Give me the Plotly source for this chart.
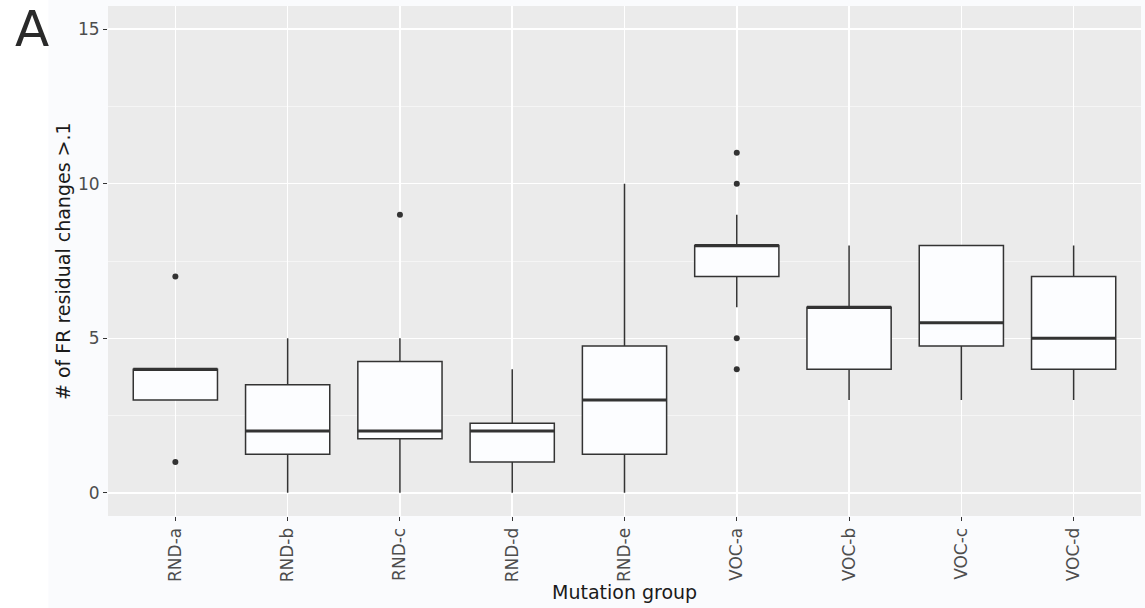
import plotly.graph_objects as go

categories = ["RND-a", "RND-b", "RND-c", "RND-d", "RND-e", "VOC-a", "VOC-b", "VOC-c", "VOC-d"]
q1 = [3, 1.25, 1.75, 1, 1.25, 7, 4, 4.75, 4]
median = [4, 2, 2, 2, 3, 8, 6, 5.5, 5]
q3 = [4, 3.5, 4.25, 2.25, 4.75, 8, 6, 8, 7]
lower = [3, 0, 0, 0, 0, 6, 3, 3, 3]
upper = [4, 5, 5, 4, 10, 9, 8, 8, 8]
outliers = {"RND-a": [7, 1], "RND-c": [9], "VOC-a": [11, 10, 5, 4]}
y_ticks = [0, 5, 10, 15]

box_w = 0.75
line_col = "#333333"
xs = list(range(len(categories)))

fig = go.Figure()
fig.add_trace(go.Box(
    x=xs, q1=q1, median=median, q3=q3, lowerfence=lower, upperfence=upper,
    width=box_w, whiskerwidth=0, fillcolor="#FCFDFF",
    line=dict(color=line_col, width=1.5), boxpoints=False, showlegend=False,
    hoverinfo="skip",
))

# thicker median lines (ggplot style)
mx, my = [], []
for i, m in enumerate(median):
    mx += [i - box_w / 2, i + box_w / 2, None]
    my += [m, m, None]
fig.add_trace(go.Scatter(x=mx, y=my, mode="lines", line=dict(color=line_col, width=3),
                         showlegend=False, hoverinfo="skip"))

ox, oy = [], []
for c, vals in outliers.items():
    for v in vals:
        ox.append(categories.index(c))
        oy.append(v)
fig.add_trace(go.Scatter(x=ox, y=oy, mode="markers", marker=dict(color=line_col, size=6),
                         showlegend=False, hoverinfo="skip"))

fig.add_shape(type="rect", xref="paper", yref="paper", x0=-0.2, x1=-0.0577, y0=-0.3, y1=1.1,
              fillcolor="white", line=dict(width=0), layer="below")

fig.add_annotation(text="A", xref="paper", yref="paper", x=-0.074, y=0.955, xanchor="center",
                   yanchor="middle", showarrow=False,
                   font=dict(family="DejaVu Sans", size=50, color="#2a2a2a"))

fig.add_annotation(text="Mutation group", xref="paper", yref="paper", x=0.5, y=-0.149,
                   xanchor="center", yanchor="middle", showarrow=False,
                   font=dict(family="DejaVu Sans", size=19, color="#1a1a1a"))
fig.add_annotation(text="# of FR residual changes >.1", xref="paper", yref="paper",
                   x=-0.0435, y=0.5, xanchor="center", yanchor="middle", textangle=-90,
                   showarrow=False, font=dict(family="DejaVu Sans", size=19, color="#1a1a1a"))

fig.update_layout(
    width=1145, height=608,
    margin=dict(l=108, r=4, t=6, b=92),
    paper_bgcolor="#FAFBFD", plot_bgcolor="#EBEBEB",
    font=dict(family="DejaVu Sans", size=17, color="#4D4D4D"),
    xaxis=dict(
        range=[-0.6, len(categories) - 0.4], tickmode="array", tickvals=xs, ticktext=categories,
        tickangle=-90, showgrid=True, gridcolor="white", gridwidth=1.5, zeroline=False,
        ticks="outside", ticklen=4, tickcolor=line_col, tickwidth=1, automargin=False,
        tickfont=dict(size=17, color="#4D4D4D"),
    ),
    yaxis=dict(
        range=[-0.75, 15.75], tickmode="array", tickvals=y_ticks, automargin=False,
        showgrid=True, gridcolor="white", gridwidth=1.5, zeroline=False,
        ticks="outside", ticklen=4, tickcolor=line_col, tickwidth=1,
        tickfont=dict(size=17, color="#4D4D4D"),
        minor=dict(tickmode="array", tickvals=[2.5, 7.5, 12.5], showgrid=True,
                   gridcolor="#F7F7F7", gridwidth=0.8, ticks=""),
    ),
)

fig.write_html("out.html", config={"displayModeBar": False, "staticPlot": True},
               post_script="document.body.style.margin='0';document.body.style.overflow='hidden';")
